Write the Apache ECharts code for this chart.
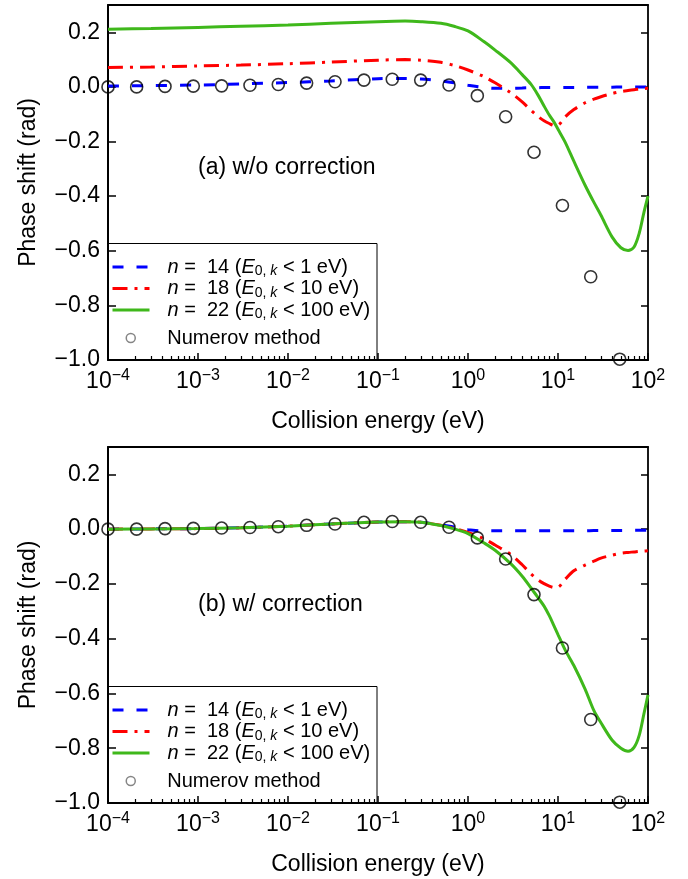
<!DOCTYPE html>
<html><head><meta charset="utf-8">
<script src="https://cdn.jsdelivr.net/npm/echarts@6/dist/echarts.min.js"></script>
<style>html,body{margin:0;padding:0;background:#fff}#c{width:688px;height:879px}</style>
</head><body><div id="c"></div>
<script>
// ---------- data ----------
const energyGrid = [1e-4, 3e-4, 1e-3, 3e-3, 1e-2, 3e-2, 0.1, 0.2, 0.3, 0.5, 0.7, 1, 1.5, 2, 3, 4, 5, 6, 7, 8, 9, 10, 12, 15, 20, 25, 30, 40, 50, 60, 70, 80, 90, 100];

// (a) w/o correction
const topN14 = [0.003, 0.005, 0.007, 0.011, 0.016, 0.022, 0.030, 0.031, 0.029, 0.022, 0.015, 0.006, -0.002, -0.005, -0.005, -0.004, -0.003, -0.003, -0.002, -0.002, -0.002, -0.002, -0.002, -0.002, -0.001, -0.001, -0.001, -0.001, 0, 0, 0, 0, 0, 0];
const topN18 = [0.071, 0.073, 0.077, 0.080, 0.085, 0.091, 0.098, 0.100, 0.098, 0.090, 0.079, 0.062, 0.038, 0.015, -0.022, -0.055, -0.085, -0.108, -0.124, -0.134, -0.141, -0.140, -0.110, -0.083, -0.058, -0.045, -0.036, -0.024, -0.017, -0.013, -0.010, -0.008, -0.006, -0.005];
const topN22 = [0.211, 0.214, 0.218, 0.222, 0.227, 0.233, 0.239, 0.241, 0.239, 0.233, 0.222, 0.205, 0.166, 0.135, 0.088, 0.045, 0.010, -0.030, -0.070, -0.103, -0.128, -0.155, -0.202, -0.272, -0.360, -0.422, -0.470, -0.550, -0.589, -0.599, -0.586, -0.535, -0.460, -0.400];

// (b) w/ correction
const botN14 = [0.000, 0.001, 0.002, 0.005, 0.011, 0.019, 0.026, 0.027, 0.025, 0.016, 0.008, -0.002, -0.006, -0.006, -0.006, -0.006, -0.006, -0.006, -0.006, -0.006, -0.006, -0.006, -0.006, -0.006, -0.006, -0.005, -0.005, -0.005, -0.005, -0.005, -0.004, -0.004, -0.004, -0.004];
const botN18 = [0.000, 0.001, 0.002, 0.005, 0.011, 0.019, 0.026, 0.027, 0.025, 0.014, 0.003, -0.012, -0.035, -0.058, -0.093, -0.130, -0.163, -0.185, -0.199, -0.208, -0.213, -0.212, -0.183, -0.152, -0.131, -0.117, -0.106, -0.095, -0.088, -0.085, -0.083, -0.081, -0.080, -0.079];
const botN22 = [0.000, 0.001, 0.002, 0.005, 0.011, 0.019, 0.026, 0.027, 0.025, 0.013, 0.001, -0.016, -0.050, -0.077, -0.127, -0.172, -0.214, -0.250, -0.281, -0.316, -0.352, -0.385, -0.441, -0.498, -0.584, -0.662, -0.707, -0.771, -0.800, -0.811, -0.797, -0.752, -0.675, -0.605];

// Numerov method (same reference points in both panels)
const numerovE = [1.0e-4, 2.08e-4, 4.30e-4, 8.87e-4, 1.83e-3, 3.78e-3, 7.80e-3, 1.61e-2, 3.33e-2, 6.98e-2, 0.144, 0.298, 0.615, 1.27, 2.62, 5.41, 11.2, 23.1, 48.5];
const numerovPhase = [0.000, 0.000, 0.002, 0.003, 0.004, 0.006, 0.009, 0.014, 0.019, 0.025, 0.028, 0.025, 0.007, -0.032, -0.109, -0.239, -0.434, -0.695, -0.997];

// ticks
const xTickValues = [1e-4, 1e-3, 1e-2, 1e-1, 1, 10, 100];
const xMinorMultipliers = [2, 3, 4, 5, 6, 7, 8, 9];
const yTickValues = [-1.0, -0.8, -0.6, -0.4, -0.2, 0.0, 0.2];

const legendLabels = {
  n14: '{it|n} =  14 ({it|E}{sub|0, }{subit|k} < 1 eV)',
  n18: '{it|n} =  18 ({it|E}{sub|0, }{subit|k} < 10 eV)',
  n22: '{it|n} =  22 ({it|E}{sub|0, }{subit|k} < 100 eV)',
  'Numerov method': 'Numerov method'
};

// ---------- build ----------
const FONT = 'Liberation Sans, Arial, Helvetica, sans-serif';
const xMinorTicks = [];
for (let i = 0; i < xTickValues.length - 1; i++) xMinorMultipliers.forEach(m => xMinorTicks.push(xTickValues[i] * m));
const zip = (xs, ys) => xs.map((x, i) => [x, ys[i]]);

const grids = [
  { left: 108, top: 5, width: 540, height: 355, outerBoundsMode: 'none' },
  { left: 108, top: 447, width: 540, height: 356, outerBoundsMode: 'none' }
];
const xAxes = [], yAxes = [];
[0, 1].forEach(g => {
  xAxes.push({
    gridIndex: g, type: 'log', logBase: 10, min: 1e-4, max: 100, position: 'bottom',
    name: 'Collision energy (eV)', nameLocation: 'middle', nameGap: 50,
    nameTextStyle: { fontFamily: FONT, fontSize: 23, color: '#000' },
    axisLine: { onZero: false, lineStyle: { color: '#000', width: 2 } },
    axisTick: { show: true, inside: true, length: 7, customValues: xTickValues, lineStyle: { color: '#000', width: 1.5 } },
    axisLabel: {
      customValues: xTickValues, margin: 8,
      formatter: v => '{b|10}{s|' + String(Math.round(Math.log10(v))).replace('-', '\u2212') + '}',
      rich: {
        b: { fontFamily: FONT, fontSize: 23, color: '#000' },
        s: { fontFamily: FONT, fontSize: 16, color: '#000', padding: [0, 0, 12, 0] }
      }
    },
    splitLine: { show: false }, minorTick: { show: false }
  });
  xAxes.push({
    gridIndex: g, type: 'log', logBase: 10, min: 1e-4, max: 100, position: 'bottom',
    axisLine: { show: true, onZero: false, lineStyle: { color: 'rgba(0,0,0,0)', width: 1 } },
    axisTick: { show: true, inside: true, length: 4, customValues: xMinorTicks, lineStyle: { color: '#000', width: 1.2 } },
    axisLabel: { show: false }, splitLine: { show: false }
  });
  xAxes.push({
    gridIndex: g, type: 'log', logBase: 10, min: 1e-4, max: 100, position: 'top',
    axisLine: { onZero: false, lineStyle: { color: '#000', width: 1.8 } },
    axisTick: { show: false }, axisLabel: { show: false }, splitLine: { show: false }
  });
  yAxes.push({
    gridIndex: g, type: 'value', min: -1.0, max: 0.3, position: 'left',
    name: 'Phase shift (rad)', nameLocation: 'middle', nameGap: 68,
    nameTextStyle: { fontFamily: FONT, fontSize: 23, color: '#000' },
    axisLine: { show: true, onZero: false, lineStyle: { color: '#000', width: 2 } },
    axisTick: { show: true, inside: true, length: 8, customValues: yTickValues, lineStyle: { color: '#000', width: 1.5 } },
    axisLabel: {
      customValues: yTickValues, margin: 8, fontFamily: FONT, fontSize: 23, color: '#000',
      formatter: v => v.toFixed(1).replace('-', '\u2212')
    },
    splitLine: { show: false }
  });
  yAxes.push({
    gridIndex: g, type: 'value', min: -1.0, max: 0.3, position: 'right',
    axisLine: { show: true, onZero: false, lineStyle: { color: '#000', width: 1.8 } },
    axisTick: { show: true, inside: true, length: 7, customValues: yTickValues, lineStyle: { color: '#000', width: 1.5 } },
    axisLabel: { show: false }, splitLine: { show: false }
  });
});

const lineStyles = {
  n14: { color: '#0000ff', width: 3, type: [11, 13] },
  n18: { color: '#ff0000', width: 3, type: [15, 7, 3, 7] },
  n22: { color: '#3fb81b', width: 3, type: 'solid' }
};
const series = [];
[[topN14, topN18, topN22], [botN14, botN18, botN22]].forEach((arrs, g) => {
  ['n14', 'n18', 'n22'].forEach((nm, k) => {
    series.push({
      name: nm, type: 'line', xAxisIndex: g * 3, yAxisIndex: g * 2,
      data: zip(energyGrid, arrs[k]), symbol: 'none', smooth: 0.3,
      itemStyle: { color: lineStyles[nm].color }, lineStyle: lineStyles[nm], z: 2 + k
    });
  });
  series.push({
    name: 'Numerov method', type: 'scatter', xAxisIndex: g * 3, yAxisIndex: g * 2,
    data: zip(numerovE, numerovPhase), symbol: 'circle', symbolSize: 12,
    itemStyle: { color: 'rgba(0,0,0,0)', borderColor: '#000', borderWidth: 1.6 }, z: 6
  });
});
const legendRich = {
  it: { fontFamily: FONT, fontSize: 20, fontStyle: 'italic', color: '#000' },
  sub: { fontFamily: FONT, fontSize: 14, color: '#000', padding: [9, 0, 0, 0] },
  subit: { fontFamily: FONT, fontSize: 14, fontStyle: 'italic', color: '#000', padding: [9, 0, 0, 0] }
};
const legends = [];
[0, 443].forEach(dy => {
  legends.push({
    orient: 'vertical', left: 111, top: 257 + dy, padding: 0, itemGap: 0,
    itemWidth: 37, itemHeight: 12, selectedMode: false, data: ['n14', 'n18', 'n22'],
    lineStyle: { width: 3 },
    itemStyle: { color: 'rgba(0,0,0,0)', borderColor: 'rgba(0,0,0,0)', borderWidth: 0 },
    formatter: n => legendLabels[n],
    textStyle: { fontFamily: FONT, fontSize: 20, color: '#000', padding: [0, 0, 0, 13], rich: legendRich }
  });
  legends.push({
    orient: 'vertical', left: 125.5, top: 328 + dy, padding: 0,
    itemWidth: 9, itemHeight: 9, selectedMode: false,
    data: [{ name: 'Numerov method', itemStyle: { color: 'rgba(0,0,0,0)', borderColor: '#666', borderWidth: 1.5 } }],
    formatter: n => legendLabels[n],
    textStyle: { fontFamily: FONT, fontSize: 20, color: '#000', padding: [0, 0, 0, 27] }
  });
});
const chart = echarts.init(document.getElementById('c'), null, { renderer: 'canvas' });
chart.setOption({
  animation: false, backgroundColor: '#fff',
  grid: grids, xAxis: xAxes, yAxis: yAxes, legend: legends, series: series,
  graphic: [
    { type: 'rect', shape: { x: 108, y: 243.5, width: 269, height: 116.5 }, style: { fill: 'none', stroke: '#000', lineWidth: 1 }, z: 1 },
    { type: 'rect', shape: { x: 108, y: 686.5, width: 269, height: 116.5 }, style: { fill: 'none', stroke: '#000', lineWidth: 1 }, z: 1 },
    { type: 'text', x: 198, y: 156, style: { text: '(a) w/o correction', font: '23px ' + FONT, fill: '#000' } },
    { type: 'text', x: 198, y: 593, style: { text: '(b) w/ correction', font: '23px ' + FONT, fill: '#000' } }
  ]
});
</script></body></html>
